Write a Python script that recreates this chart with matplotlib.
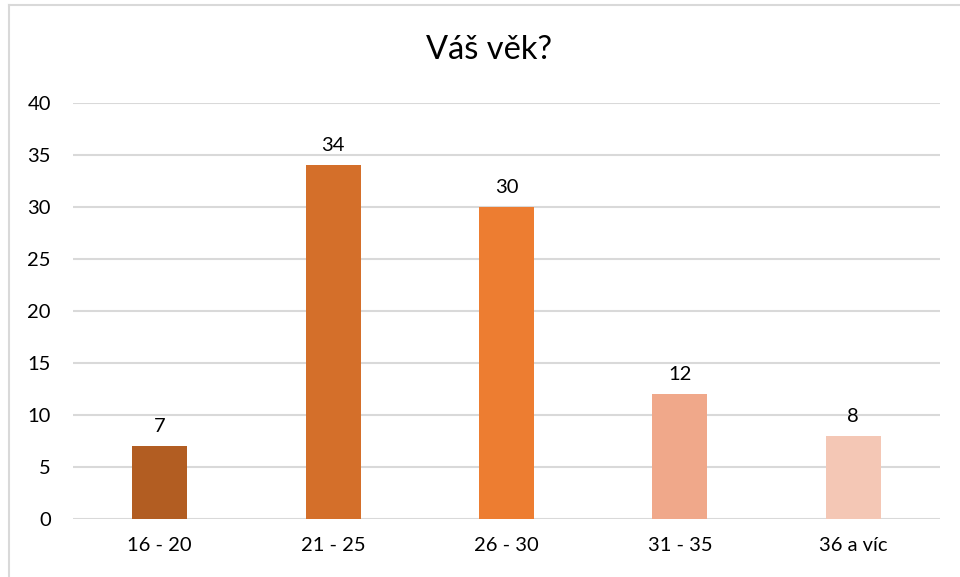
import matplotlib.pyplot as plt
from matplotlib.lines import Line2D

# Data
kategorie = ['16 - 20', '21 - 25', '26 - 30', '31 - 35', '36 a víc']
pocty = [7, 34, 30, 12, 8]
barvy = ['#B25D22', '#D46F2A', '#ED7D31', '#F0A88A', '#F4C7B5']

plt.rcParams['font.family'] = ['Lato', 'DejaVu Sans']

fig = plt.figure(figsize=(9.6, 5.77), dpi=100)
ax = fig.add_axes([73/960, 1-519/577, 867/960, (519-103)/577])

x = list(range(len(kategorie)))
bars = ax.bar(x, pocty, width=0.317, color=barvy, zorder=3)

for b, v in zip(bars, pocty):
    ax.annotate(str(v), (b.get_x() + b.get_width()/2, v), xytext=(0, 8),
                textcoords='offset points', ha='center', va='bottom',
                fontsize=14.5, color='#000000')

ax.set_xlim(-0.5, len(kategorie) - 0.5)
ax.set_ylim(0, 40)
ax.set_yticks(range(0, 41, 5))
ax.set_xticks(x)
ax.set_xticklabels(kategorie)
ax.tick_params(axis='both', length=0, labelsize=14.5, colors='#000000')
ax.tick_params(axis='y', pad=16)
ax.tick_params(axis='x', pad=13)
ax.yaxis.grid(True, color='#D9D9D9', linewidth=1.5, zorder=0)
for s in ax.spines.values():
    s.set_visible(False)

fig.text(489/960, 1-50/577, 'Váš věk?', ha='center', va='center', fontsize=23.5)

# light border at top and left
fig.add_artist(Line2D([9/960, 9/960], [0, 1-5/577], color='#D9D9D9', linewidth=1.5))
fig.add_artist(Line2D([9/960, 1], [1-5/577, 1-5/577], color='#D9D9D9', linewidth=1.5))

plt.savefig('out.png', dpi=100)
